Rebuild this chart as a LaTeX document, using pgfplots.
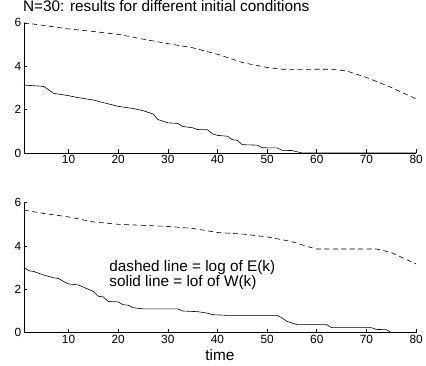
\documentclass[border=0pt]{standalone}
\usepackage{pgfplots}
\pgfplotsset{compat=1.18}
\usepackage{fontspec}
\setmainfont{Liberation Sans}
\pgfplotstableread{
x y
1 6.00
5 5.88
10 5.72
15 5.60
20 5.47
25 5.25
30 5.04
35 4.85
40 4.55
45 4.17
50 3.94
53 3.86
56 3.85
60 3.86
63 3.86
66 3.78
70 3.48
75 3.02
80 2.49
}\topE
\pgfplotstableread{
x y
1 3.13
5 3.07
7 2.75
10 2.64
12 2.55
15 2.44
17 2.32
20 2.15
23 2.05
25 1.95
27 1.80
28 1.54
30 1.39
32 1.36
33 1.22
35 1.16
36 1.08
38 1.07
39 0.88
40 0.81
42 0.77
43 0.61
44 0.58
45 0.38
48 0.36
49 0.24
52 0.23
53 0.12
55 0.11
57 0.00
80 0.00
}\topW
\pgfplotstableread{
x y
1 5.65
5 5.50
10 5.34
15 5.11
20 5.00
25 4.95
30 4.90
35 4.81
40 4.62
45 4.55
50 4.42
55 4.20
58 3.98
60 3.86
65 3.86
72 3.86
75 3.70
80 3.17
}\botE
\pgfplotstableread{
x y
1 3.02
2 2.86
3 2.82
5 2.66
7 2.53
8 2.50
9 2.36
10 2.25
12 2.20
13 2.10
15 1.90
16 1.68
17 1.65
18 1.44
20 1.42
21 1.29
22 1.27
23 1.15
25 1.10
32 1.10
33 1.00
36 0.97
38 0.90
39 0.83
42 0.80
52 0.80
53 0.68
54 0.52
56 0.37
62 0.37
63 0.23
71 0.23
72 0.15
74 0.14
75 0.00
80 0.00
}\botW
\begin{document}
\begin{tikzpicture}
\path (0bp,0bp) rectangle (426bp,368bp);
\pgfplotsset{
  myax/.style={
    scale only axis, width=395bp, height=131bp,
    xmin=1, xmax=80, ymin=0, ymax=6,
    axis x line*=bottom, axis y line*=left,
    axis line style={-, line width=0.6pt},
    tick align=inside, major tick length=3.5bp,
    xtick={10,20,...,80}, ytick={0,2,4,6},
    tick style={line width=0.6pt, black},
    /pgf/number format/assume math mode=true,
    ticklabel style={font=\fontsize{12}{14}\selectfont},
    xticklabel style={yshift=1bp},
    yticklabel style={xshift=1bp},
    every axis plot/.append style={line width=0.6pt, black},
  }
}
\begin{axis}[myax, at={(24bp,214bp)}, anchor=south west,
  title={N=30: results for different initial conditions},
  title style={at={(0,1)}, anchor=south west, inner sep=0pt, yshift=5bp, xshift=-1bp, font=\fontsize{15.5}{18}\selectfont}]
\addplot[dash pattern=on 5bp off 3.5bp] table {\topE};
\addplot[] table {\topW};
\end{axis}
\begin{axis}[myax, at={(24bp,33bp)}, anchor=south west,
  xlabel={time}, xlabel style={font=\fontsize{15.5}{18}\selectfont, yshift=1.5bp}]
\addplot[dash pattern=on 5bp off 3.5bp] table {\botE};
\addplot[] table {\botW};
\node[anchor=west, align=left, inner sep=0pt, font=\fontsize{15.5}{15.5}\selectfont] at (axis cs:18.2,2.66) {dashed line = log of E(k)\\solid line = lof of W(k)};
\end{axis}
\end{tikzpicture}
\end{document}
